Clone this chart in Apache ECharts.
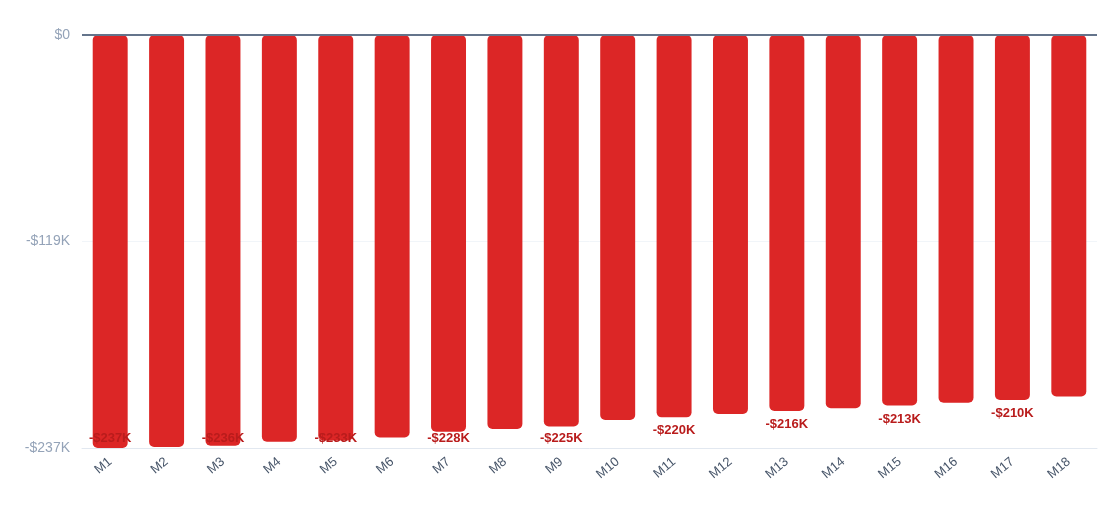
<!DOCTYPE html>
<html>
<head>
<meta charset="utf-8">
<script src="https://cdn.jsdelivr.net/npm/echarts@6/dist/echarts.min.js"></script>
<style>
html,body{margin:0;padding:0;background:#fff;}
#chart{width:1120px;height:531px;}
</style>
</head>
<body>
<div id="chart"></div>
<script>
const categories = ['M1','M2','M3','M4','M5','M6','M7','M8','M9','M10','M11','M12','M13','M14','M15','M16','M17','M18'];
const values = [-237200,-236600,-235900,-233600,-232900,-231100,-227800,-226300,-224800,-221100,-219600,-217700,-216000,-214400,-212800,-211200,-209600,-207600];
const yMin = -237200;
const yInterval = 118600;

function money(v){
  const k = Math.round(Math.abs(v)/1000);
  return (v < 0 ? '-$' : '$') + k + 'K';
}

const H = 531, gridBottom = 83, gridTop = 35;
const chart = echarts.init(document.getElementById('chart'));
chart.setOption({
  animation: false,
  textStyle: { fontFamily: 'Helvetica Neue, Arial, Liberation Sans, sans-serif' },
  grid: { left: 82, right: 23, top: gridTop, bottom: gridBottom },
  xAxis: {
    type: 'category',
    data: categories,
    position: 'bottom',
    axisLine: { onZero: false, lineStyle: { color: '#e2e8f0', width: 1 } },
    axisTick: { show: false },
    axisLabel: { rotate: 40, color: '#475569', fontSize: 13, margin: 12 }
  },
  yAxis: {
    type: 'value',
    min: yMin,
    max: 0,
    interval: yInterval,
    axisLine: { show: false },
    axisTick: { show: false },
    splitLine: { lineStyle: { color: '#f1f5f9', width: 1 } },
    axisLabel: { color: '#94a3b8', fontSize: 14, margin: 12, formatter: v => v === 0 ? '$0' : money(v) }
  },
  series: [{
    type: 'bar',
    barWidth: '62%',
    data: values.map((v, i) => ({ value: v, label: { show: i % 2 === 0 } })),
    itemStyle: { color: '#dc2626', borderRadius: 5 },
    label: {
      show: true,
      position: 'bottom',
      color: '#b91c1c',
      fontWeight: 'bold',
      fontSize: 13,
      formatter: p => money(p.value)
    },
    labelLayout: function (params) {
      const r = params.rect;
      const cy = Math.min(r.y + r.height + 13.5, H - gridBottom - 10);
      return { x: r.x + r.width / 2, y: cy, align: 'center', verticalAlign: 'middle' };
    },
    markLine: {
      silent: true,
      symbol: 'none',
      label: { show: false },
      lineStyle: { color: '#64748b', width: 2, type: 'solid' },
      data: [{ yAxis: 0 }]
    }
  }]
});
</script>
</body>
</html>
